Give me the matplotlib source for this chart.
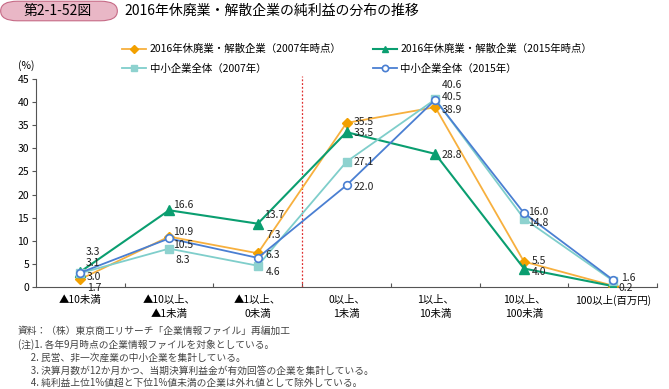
import matplotlib
matplotlib.use('Agg')
import matplotlib.pyplot as plt
from matplotlib.patches import FancyBboxPatch
from matplotlib.lines import Line2D

plt.rcParams['font.family'] = ['Noto Sans CJK JP', 'DejaVu Sans']

# data
categories = ['▲10未満', '▲10以上、\n▲1未満', '▲1以上、\n0未満', '0以上、\n1未満',
              '1以上、\n10未満', '10以上、\n100未満', '100以上(百万円)']
closed_2007 = [1.7, 10.9, 7.3, 35.5, 38.9, 5.5, 0.3]
closed_2015 = [3.3, 16.6, 13.7, 33.5, 28.8, 4.0, 0.2]
sme_2007 = [3.0, 8.3, 4.6, 27.1, 40.6, 14.8, 1.4]
sme_2015 = [3.1, 10.5, 6.3, 22.0, 40.5, 16.0, 1.6]
names = ['2016年休廃業・解散企業（2007年時点）', '2016年休廃業・解散企業（2015年時点）',
         '中小企業全体（2007年）', '中小企業全体（2015年）']
yticks = list(range(0, 50, 5))
notes = ['資料：（株）東京商工リサーチ「企業情報ファイル」再編加工',
         '(注)1. 各年9月時点の企業情報ファイルを対象としている。',
         '      2. 民営、非一次産業の中小企業を集計している。',
         '      3. 決算月数が12か月かつ、当期決算利益金が有効回答の企業を集計している。',
         '      4. 純利益上位1%値超と下位1%値未満の企業は外れ値として除外している。']

# label offsets in pixels (None = no label)
off_o = [(14, -9), (14, 5), (16, 18), (17, 1), (17, -3), (15, 1), None]
off_g = [(13, 20), (14, 5), (16, 9), (17, -1), (17, -1), (15, -3), (13, -2)]
off_t = [(14, -4), (14, -11), (15, -6), (17, 0), (17, 14), (14, -4), None]
off_b = [(13, 10), (14, -7), (15, 3), (17, -2), (17, 3), (14, 1), (16, 2)]

fig = plt.figure(figsize=(6.69, 3.89), dpi=100)
ax = fig.add_axes([36 / 669, 1 - 287 / 389, 621 / 669, 208 / 389])

x = list(range(len(categories)))
c_or, c_gr, c_te, c_bl = '#F7B03E', '#0A9E70', '#7FCECB', '#4A7FD2'
styles = [
    dict(color=c_or, lw=1.3, marker='D', mfc='#F2A000', mec='#F2A000'),
    dict(color=c_gr, lw=1.5, marker='^', mfc=c_gr, mec=c_gr),
    dict(color=c_te, lw=1.3, marker='s', mfc='#8ED2CF', mec='#8ED2CF'),
    dict(color=c_bl, lw=1.3, marker='o', mfc='white', mec=c_bl, mew=1.2),
]
sizes = [5.5, 6.5, 5.5, 5.5]
series = [closed_2007, closed_2015, sme_2007, sme_2015]
for vals, st, ms, z in zip(series, styles, sizes, [3, 3, 3, 4]):
    ax.plot(x, vals, ms=ms, zorder=z, **st)

for vals, offs in zip(series, [off_o, off_g, off_t, off_b]):
    for xi, v, o in zip(x, vals, offs):
        if o is None:
            continue
        ax.annotate(f'{v:.1f}', (xi, v), xytext=o, textcoords='offset pixels',
                    ha='center', va='center', fontsize=7.5, color='#222222', zorder=5)

ax.axvline(2.5, ymin=0, ymax=1.015, color='#E03030', lw=0.9, ls=(0, (1.5, 1.5)),
           clip_on=False)

ax.set_xlim(-0.5, 6.5)
ax.set_ylim(0, 45)
ax.set_yticks(yticks)
ax.tick_params(axis='y', labelsize=7.5, length=3, color='#555555', pad=2)
ax.set_xticks([i + 0.5 for i in range(7)])
ax.set_xticklabels([])
ax.tick_params(axis='x', direction='in', length=3, color='#555555')
for s in ['top', 'right']:
    ax.spines[s].set_visible(False)
for s in ['left', 'bottom']:
    ax.spines[s].set_color('#555555')
    ax.spines[s].set_linewidth(0.8)

for xi, c in zip(x, categories):
    ax.text(xi, -1.8, c, ha='center', va='top', fontsize=7.5, linespacing=1.5)

fig.text(18 / 669, 1 - 66 / 389, '(%)', fontsize=7.5, ha='left', va='center')

# legend with small markers
handles = [Line2D([], [], ms=4.5, **st) for st in styles]
fig.legend([handles[0], handles[2], handles[1], handles[3]],
           [names[0], names[2], names[1], names[3]],
           ncol=2, loc='upper left', bbox_to_anchor=(117 / 669, 1 - 39 / 389),
           frameon=False, fontsize=7.5, handlelength=2.3, columnspacing=3.0,
           labelspacing=0.9, handletextpad=0.35, borderpad=0)

# title box
box = FancyBboxPatch((2 / 669, 1 - 20 / 389), 114 / 669, 18 / 389,
                     boxstyle='round,pad=0.002,rounding_size=0.025',
                     transform=fig.transFigure, facecolor='#E9B7C6',
                     edgecolor='#C66A86', lw=0.8)
fig.patches.append(box)
fig.text(58 / 669, 1 - 11 / 389, '第2-1-52図', fontsize=10, ha='center', va='center')
fig.text(124 / 669, 1 - 11 / 389, '2016年休廃業・解散企業の純利益の分布の推移',
         fontsize=10, ha='left', va='center')

ys = [331, 345, 358, 371, 383]
for yy, t in zip(ys, notes):
    fig.text(18 / 669, 1 - yy / 389, t, fontsize=7, color='#444444',
             ha='left', va='center')

fig.savefig('out.png', dpi=100)
